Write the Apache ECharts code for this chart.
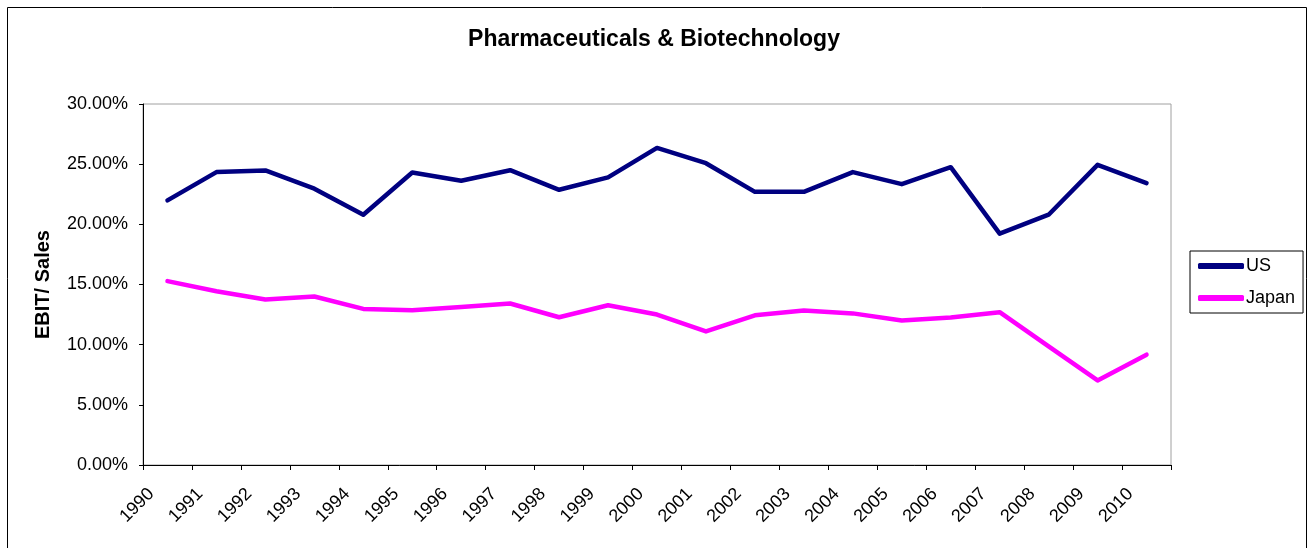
<!DOCTYPE html>
<html>
<head>
<meta charset="utf-8">
<title>Pharmaceuticals & Biotechnology</title>
<script src="https://cdn.jsdelivr.net/npm/echarts@6/dist/echarts.min.js"></script>
<style>
  html, body { margin: 0; padding: 0; background: #fff; }
  #chart { width: 1308px; height: 548px; }
</style>
</head>
<body>
<div id="chart"></div>
<script>
// EBIT / Sales (fractions)
const years = ['1990', '1991', '1992', '1993', '1994', '1995', '1996', '1997', '1998', '1999', '2000',
  '2001', '2002', '2003', '2004', '2005', '2006', '2007', '2008', '2009', '2010']
const usValues = [0.2199, 0.2434, 0.2448, 0.2296, 0.2080, 0.2431, 0.2362, 0.2450, 0.2287, 0.2390, 0.2635,
  0.2508, 0.2270, 0.2270, 0.2434, 0.2334, 0.2475, 0.1923, 0.2080, 0.2494, 0.2343]
const japanValues = [0.1528, 0.1444, 0.1375, 0.1400, 0.1297, 0.1286, 0.1314, 0.1342, 0.1228, 0.1328, 0.1250,
  0.1110, 0.1244, 0.1283, 0.1260, 0.1200, 0.1225, 0.1270, 0.0986, 0.0703, 0.0917]
const yTicks = { min: 0, max: 0.30, step: 0.05 }

const FONT = '"Liberation Sans", Arial, sans-serif'

const chart = echarts.init(document.getElementById('chart'), null, { renderer: 'canvas' })

const option = {
  animation: false,
  backgroundColor: '#fff',
  textStyle: { fontFamily: FONT },
  title: {
    text: 'Pharmaceuticals & Biotechnology',
    left: 'center',
    top: 23,
    textStyle: { fontFamily: FONT, fontSize: 23, fontWeight: 'bold', color: '#000' }
  },
  graphic: [
    {
      type: 'rect',
      silent: true,
      shape: { x: 7.5, y: 7.5, width: 1299, height: 600 },
      style: { fill: 'none', stroke: '#000', lineWidth: 1 }
    }
  ],
  legend: {
    orient: 'vertical',
    left: 1190,
    top: 251,
    padding: [6, 8, 6, 8],
    itemGap: 14,
    itemWidth: 46,
    itemHeight: 6,
    icon: 'roundRect',
    borderColor: '#000',
    borderWidth: 1,
    textStyle: { fontFamily: FONT, fontSize: 18, color: '#000', padding: [0, 0, 0, -3] },
    data: ['US', 'Japan']
  },
  grid: {
    left: 143,
    top: 104,
    right: 137,
    bottom: 83,
    show: true,
    borderColor: '#a0a0a0',
    borderWidth: 1,
    containLabel: false
  },
  xAxis: {
    type: 'category',
    data: years,
    boundaryGap: true,
    axisLine: { lineStyle: { color: '#000', width: 1 } },
    axisTick: { show: true, length: 5, lineStyle: { color: '#000' } },
    axisLabel: {
      rotate: 45,
      interval: 0,
      margin: 10,
      padding: [0, 23, 0, 0],
      fontFamily: FONT,
      fontSize: 18,
      color: '#000'
    },
    splitLine: { show: false }
  },
  yAxis: {
    type: 'value',
    min: yTicks.min,
    max: yTicks.max,
    interval: yTicks.step,
    name: 'EBIT/ Sales',
    nameLocation: 'middle',
    nameRotate: 90,
    nameGap: 90,
    nameTextStyle: { fontFamily: FONT, fontSize: 20, fontWeight: 'bold', color: '#000' },
    axisLine: { show: true, lineStyle: { color: '#000', width: 1 } },
    axisTick: { show: true, length: 4, lineStyle: { color: '#000' } },
    axisLabel: {
      margin: 15,
      fontFamily: FONT,
      fontSize: 18,
      color: '#000',
      formatter: v => (v * 100).toFixed(2) + '%'
    },
    splitLine: { show: false }
  },
  series: [
    {
      name: 'US',
      type: 'line',
      data: usValues,
      symbol: 'none',
      color: '#000080',
      lineStyle: { color: '#000080', width: 4.5, cap: 'round', join: 'round' }
    },
    {
      name: 'Japan',
      type: 'line',
      data: japanValues,
      symbol: 'none',
      color: '#ff00ff',
      lineStyle: { color: '#ff00ff', width: 4.5, cap: 'round', join: 'round' }
    }
  ]
}

chart.setOption(option)
</script>
</body>
</html>
